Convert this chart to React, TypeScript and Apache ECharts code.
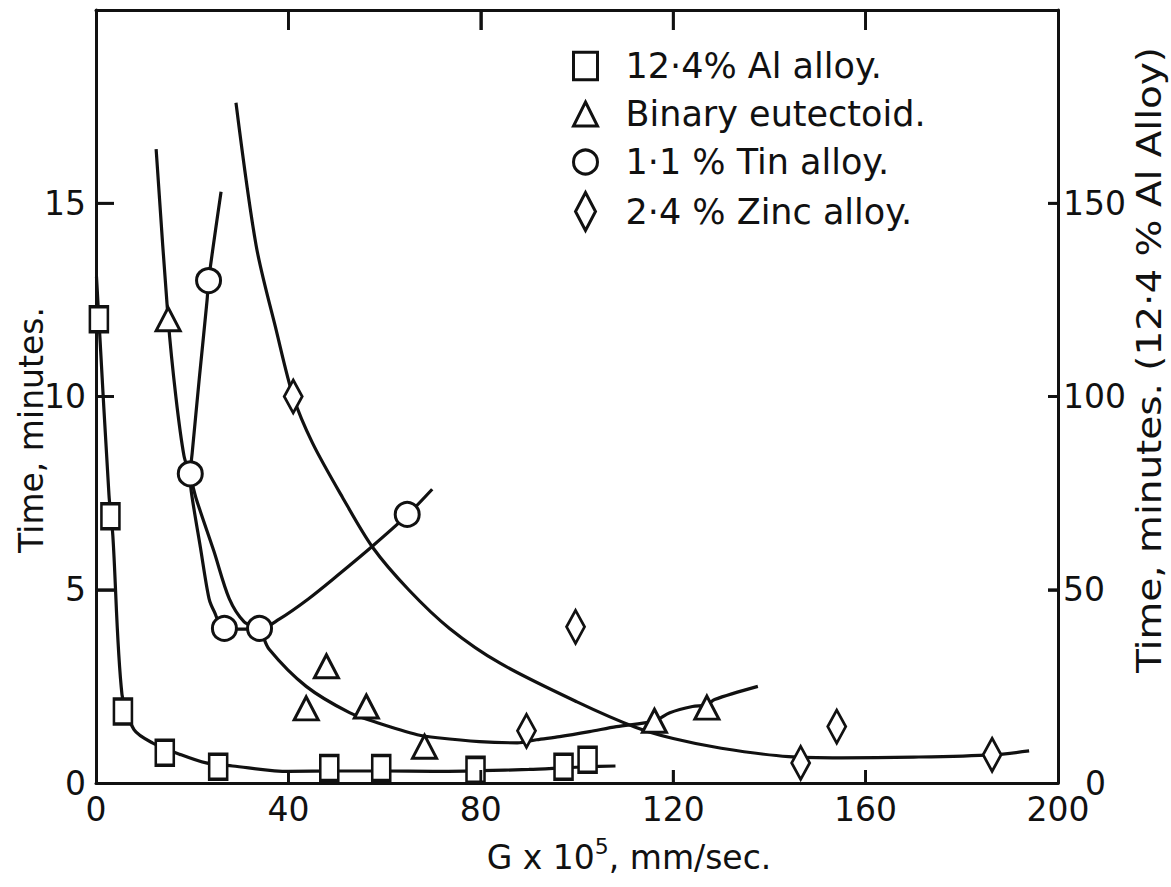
import { useEffect, useRef } from "react";
import * as echarts from "echarts";

const FONT = "DejaVu Sans";
const INK = "#111111";

// Canvas and plot box
const WIDTH = 1171;
const HEIGHT = 887;
const GRID = { left: 96, right: 113, top: 10, bottom: 104 };

// Axis ranges and tick steps
const X_MIN = 0;
const X_MAX = 200;
const X_STEP = 40;
const LEFT_MAX = 20;
const LEFT_STEP = 5;
const RIGHT_MAX = 200;
const RIGHT_STEP = 50;

// Series names (legend)
const AL_NAME = "12·4% Al alloy.";
const EUT_NAME = "Binary eutectoid.";
const TIN_NAME = "1·1 % Tin alloy.";
const ZINC_NAME = "2·4 % Zinc alloy.";

// 12·4 % Al alloy — read on the right-hand scale
const alG = [0.6, 3, 5.6, 14.3, 25.4, 48.5, 59.3, 78.9, 97.2, 102.2];
const alTime = [120, 69, 18.5, 7.8, 4.2, 3.9, 3.9, 3.4, 4.2, 6];
const alCurveG = [0.1, 0.6, 2.7, 3.5, 5.4, 7.9, 11.7, 17.7, 22.9, 28.4, 40, 50, 60, 70, 80, 90, 97, 102, 108];
const alCurveTime = [131, 120, 74.5, 64, 22.9, 13.8, 10.4, 7.3, 5.2, 4.4, 3.0, 3.1, 3.1, 3.0, 3.2, 3.5, 3.9, 4.2, 4.4];

// Binary eutectoid
const eutG = [15, 43.7, 47.9, 56.2, 68.3, 116.1, 127];
const eutTime = [12, 1.93, 3.02, 1.98, 0.94, 1.61, 1.95];
const eutCurveG = [12.5, 15, 16.6, 18.3, 19.6, 20.8, 24.5, 27.7, 30.8, 33.9, 36, 43.7, 52.7, 58.5, 66.8, 71, 79.7, 87.6, 91.6, 96.4, 102.6, 108.2, 116, 119.3, 124, 127, 128.6, 137.6];
const eutCurveTime = [16.4, 12, 10, 8.46, 7.95, 7.37, 6, 4.77, 4.17, 3.98, 3.46, 2.5, 1.82, 1.56, 1.25, 1.17, 1.07, 1.04, 1.12, 1.2, 1.33, 1.46, 1.6, 1.82, 1.98, 2.02, 2.16, 2.5];

// 1·1 % Tin alloy
const tinG = [23.4, 19.6, 26.7, 34, 64.7];
const tinTime = [13, 8, 4, 4, 6.95];
const tinCurveG = [26, 23.4, 23.1, 21.5, 20, 19.6, 19.8, 21.7, 23.5, 24.6, 26.7, 34, 38.1, 44, 50, 57.4, 64.7, 69.9];
const tinCurveTime = [15.3, 13, 12.5, 10.5, 8.54, 8, 7.55, 6.1, 4.77, 4.43, 3.98, 3.98, 4.24, 4.75, 5.35, 6.12, 6.93, 7.6];

// 2·4 % Zinc alloy
const zincG = [41, 89.5, 99.7, 146.5, 154, 186.3];
const zincTime = [10, 1.35, 4.04, 0.52, 1.46, 0.73];
const zincCurveG = [29.1, 33.3, 37.5, 41, 45, 51.2, 57.5, 65, 73.5, 84, 100, 112, 120, 130, 144, 155, 170, 186.3, 194];
const zincCurveTime = [17.6, 13.9, 11.7, 10, 8.8, 7.4, 6.1, 5.0, 4.0, 3.1, 2.1, 1.45, 1.15, 0.9, 0.68, 0.65, 0.67, 0.73, 0.83];

const pairs = (xs: number[], ys: number[]) => xs.map((x, i) => [x, ys[i]]);

// inner tick values between the axis ends
const innerTicks = (step: number, max: number) => {
  const out: number[] = [];
  for (let v = step; v < max; v += step) out.push(v);
  return out;
};

// tick lengths in pixels, turned into axis units
const plotW = WIDTH - GRID.left - GRID.right;
const plotH = HEIGHT - GRID.top - GRID.bottom;
const xPerPx = (X_MAX - X_MIN) / plotW;
const leftPerPx = LEFT_MAX / plotH;

const markerStyle = { color: "#ffffff", borderColor: INK, borderWidth: 3, opacity: 1 };

const curve = (name: string, xs: number[], ys: number[], yAxisIndex = 0) => ({
  type: "line",
  name,
  data: pairs(xs, ys),
  yAxisIndex,
  symbol: "none",
  showSymbol: false,
  smooth: 0.3,
  silent: true,
  lineStyle: { color: INK, width: 3.2, opacity: 1 },
  z: 2,
});

const points = (name: string, xs: number[], ys: number[], symbol: string, symbolSize: number | number[], yAxisIndex = 0) => ({
  type: "scatter",
  name,
  data: pairs(xs, ys),
  yAxisIndex,
  symbol,
  symbolSize,
  itemStyle: markerStyle,
  emphasis: { disabled: true },
  z: 3,
});

// one short straight segment per tick mark
const tickSegment = (name: string, from: number[], to: number[]) => ({
  type: "line",
  name,
  data: [from, to],
  symbol: "none",
  showSymbol: false,
  silent: true,
  clip: false,
  lineStyle: { color: INK, width: 2.8, opacity: 1 },
  z: 4,
});

const tickSeries = [
  ...innerTicks(X_STEP, X_MAX).map((v) => tickSegment(`bottom tick ${v}`, [v, 0], [v, 13 * leftPerPx])),
  ...innerTicks(X_STEP, X_MAX).map((v) => tickSegment(`top tick ${v}`, [v, LEFT_MAX], [v, LEFT_MAX - 20 * leftPerPx])),
  ...innerTicks(LEFT_STEP, LEFT_MAX).map((v) => tickSegment(`left tick ${v}`, [X_MIN, v], [X_MIN + 18 * xPerPx, v])),
  ...innerTicks(RIGHT_STEP, RIGHT_MAX).map((v) => ({
    ...tickSegment(`right tick ${v}`, [X_MAX, v], [X_MAX - 10 * xPerPx, v]),
    yAxisIndex: 1,
  })),
];

const labelText = { fontFamily: FONT, fontSize: 33, color: INK };
const frame = { show: true, onZero: false, lineStyle: { color: INK, width: 3 } };
const tick = (length: number) => ({ show: true, inside: true, length, lineStyle: { color: INK, width: 2.6, opacity: 1 } });

const titles = [
  {
    type: "text",
    x: 31,
    y: 430,
    rotation: Math.PI / 2,
    style: {
      text: "Time, minutes.",
      fontFamily: FONT,
      fontSize: 33,
      fill: INK,
      align: "center",
      verticalAlign: "middle",
    },
  },
  {
    type: "text",
    x: 1150,
    y: 360,
    rotation: Math.PI / 2,
    scaleX: 1.18,
    style: {
      text: "Time, minutes. (12·4 % Al Alloy)",
      fontFamily: FONT,
      fontSize: 33,
      fill: INK,
      align: "center",
      verticalAlign: "middle",
    },
  },
  {
    type: "text",
    x: 629,
    y: 857,
    style: {
      text: "{a|G x 10}{s|5}{a|, mm/sec.}",
      fill: INK,
      align: "center",
      verticalAlign: "middle",
      rich: {
        a: { fontFamily: FONT, fontSize: 33, color: INK, lineHeight: 44 },
        s: { fontFamily: FONT, fontSize: 22, color: INK, lineHeight: 44, verticalAlign: "top" },
      },
    },
  },
];

export default function App() {
  const ref = useRef<HTMLDivElement>(null);

  useEffect(() => {
    const chart = echarts.init(ref.current!, null, { renderer: "svg" });
    chart.setOption({
      animation: false,
      backgroundColor: "#ffffff",
      textStyle: { fontFamily: FONT, color: INK },
      grid: GRID,
      legend: {
        orient: "vertical",
        left: 567,
        top: 42,
        itemWidth: 24,
        itemHeight: 38,
        itemGap: 10,
        selectedMode: false,
        itemStyle: markerStyle,
        textStyle: { fontFamily: FONT, fontSize: 35, color: INK, lineHeight: 38, padding: [0, 0, 0, 23] },
        data: [
          { name: AL_NAME, icon: "path://M0,0H22V25H0Z" },
          { name: EUT_NAME, icon: "path://M11.5,0L23,23H0Z" },
          { name: TIN_NAME, icon: "circle" },
          { name: ZINC_NAME, icon: "path://M10,0L20,19L10,38L0,19Z" },
        ],
      },
      xAxis: [
        {
          type: "value",
          position: "bottom",
          min: X_MIN,
          max: X_MAX,
          interval: X_STEP,
          axisLine: frame,
          axisTick: tick(13),
          axisLabel: { ...labelText, margin: 10 },
          splitLine: { show: false },
        },
        {
          type: "value",
          position: "top",
          min: X_MIN,
          max: X_MAX,
          interval: X_STEP,
          axisLine: frame,
          axisTick: tick(20),
          axisLabel: { show: false },
          splitLine: { show: false },
        },
      ],
      yAxis: [
        {
          type: "value",
          position: "left",
          min: 0,
          max: LEFT_MAX,
          interval: LEFT_STEP,
          axisLine: frame,
          axisTick: tick(18),
          axisLabel: {
            ...labelText,
            margin: 10,
            formatter: (v: number) => (v >= LEFT_MAX ? "" : String(v)),
          },
          splitLine: { show: false },
        },
        {
          type: "value",
          position: "right",
          min: 0,
          max: RIGHT_MAX,
          interval: RIGHT_STEP,
          axisLine: frame,
          axisTick: tick(10),
          axisLabel: {
            ...labelText,
            margin: 5,
            formatter: (v: number) => (v >= RIGHT_MAX ? "" : v === 0 ? "{z|0}" : String(v)),
            rich: { z: { ...labelText, padding: [0, 0, 0, 22] } },
          },
          splitLine: { show: false },
        },
      ],
      graphic: titles,
      series: [
        curve("Al alloy fit", alCurveG, alCurveTime, 1),
        curve("Eutectoid fit", eutCurveG, eutCurveTime),
        curve("Tin alloy fit", tinCurveG, tinCurveTime),
        curve("Zinc alloy fit", zincCurveG, zincCurveTime),
        points(AL_NAME, alG, alTime, "rect", [18, 25], 1),
        points(EUT_NAME, eutG, eutTime, "triangle", [24, 23]),
        points(TIN_NAME, tinG, tinTime, "circle", 24),
        points(ZINC_NAME, zincG, zincTime, "diamond", [18, 33]),
        ...tickSeries,
      ],
    });
    return () => chart.dispose();
  }, []);

  return (
    <div
      ref={ref}
      style={{ position: "fixed", left: 0, top: 0, width: WIDTH, height: HEIGHT, background: "#ffffff" }}
    />
  );
}
